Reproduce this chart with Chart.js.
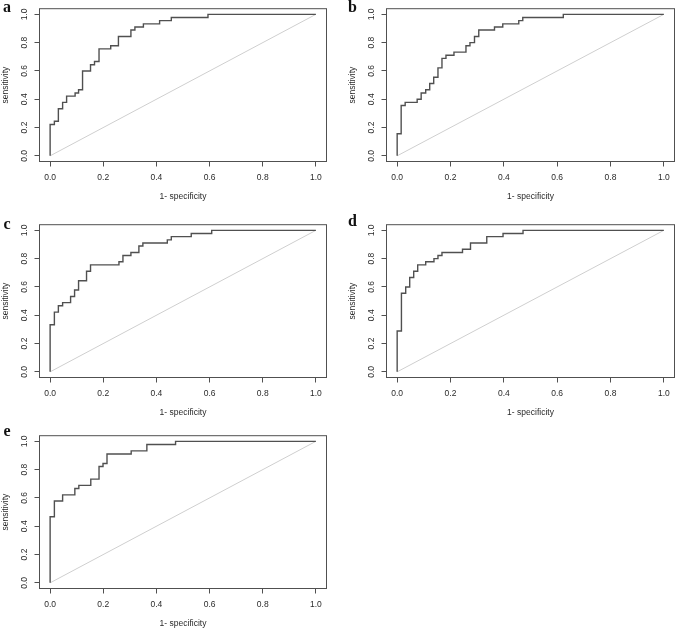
<!DOCTYPE html>
<html>
<head>
<meta charset="utf-8">
<script src="https://cdn.jsdelivr.net/npm/chart.js@4"></script>
<style>
  html, body { margin: 0; padding: 0; background: #fff; }
  #fig { position: relative; width: 677px; height: 631px; overflow: hidden; }
  .panel { position: absolute; }
  .tag { position: absolute; font: bold 16px/16px "Liberation Serif", "Times New Roman", serif; color: #111; }
</style>
</head>
<body>
<div id="fig">
  <div class="panel" id="pa"><canvas id="chartA"></canvas></div>
  <div class="panel" id="pb"><canvas id="chartB"></canvas></div>
  <div class="panel" id="pc"><canvas id="chartC"></canvas></div>
  <div class="panel" id="pd"><canvas id="chartD"></canvas></div>
  <div class="panel" id="pe"><canvas id="chartE"></canvas></div>
  <div class="tag" style="left:3px;top:-1.5px">a</div>
  <div class="tag" style="left:348px;top:-1.5px">b</div>
  <div class="tag" style="left:3.5px;top:215.5px">c</div>
  <div class="tag" style="left:348px;top:212.5px">d</div>
  <div class="tag" style="left:3.5px;top:422.5px">e</div>
</div>
<script>
// axis ticks shared by every panel
const tickValues = [0, 0.2, 0.4, 0.6, 0.8, 1.0];

// chance line
const diagX = [0, 1];
const diagY = [0, 1];

// ROC steps: at each 1-specificity value the sensitivity jumps to the matching value
const fprA = [0, 0, 0.016, 0.031, 0.047, 0.062, 0.094, 0.107, 0.122, 0.152, 0.167, 0.184, 0.228, 0.257, 0.304, 0.319, 0.351, 0.412, 0.456, 0.594, 1];
const tprA = [0, 0.222, 0.244, 0.333, 0.378, 0.422, 0.444, 0.467, 0.600, 0.644, 0.667, 0.756, 0.778, 0.844, 0.889, 0.911, 0.933, 0.956, 0.978, 1, 1];

const fprB = [0, 0, 0.015, 0.030, 0.075, 0.090, 0.107, 0.122, 0.137, 0.153, 0.168, 0.183, 0.213, 0.258, 0.273, 0.290, 0.306, 0.365, 0.396, 0.456, 0.471, 0.623, 1];
const tprB = [0, 0.156, 0.356, 0.378, 0.400, 0.444, 0.467, 0.511, 0.556, 0.622, 0.689, 0.711, 0.733, 0.778, 0.800, 0.844, 0.889, 0.911, 0.933, 0.956, 0.978, 1, 1];

const fprC = [0, 0, 0.016, 0.031, 0.047, 0.077, 0.092, 0.107, 0.137, 0.152, 0.259, 0.274, 0.304, 0.334, 0.349, 0.441, 0.456, 0.531, 0.608, 1];
const tprC = [0, 0.333, 0.422, 0.467, 0.489, 0.533, 0.578, 0.644, 0.711, 0.756, 0.778, 0.822, 0.844, 0.889, 0.911, 0.933, 0.956, 0.978, 1, 1];

const fprD = [0, 0, 0.016, 0.032, 0.047, 0.062, 0.077, 0.107, 0.138, 0.153, 0.168, 0.245, 0.275, 0.336, 0.397, 0.472, 1];
const tprD = [0, 0.289, 0.556, 0.600, 0.667, 0.711, 0.756, 0.778, 0.800, 0.822, 0.844, 0.867, 0.911, 0.956, 0.978, 1, 1];

const fprE = [0, 0, 0.016, 0.047, 0.093, 0.108, 0.153, 0.184, 0.199, 0.214, 0.305, 0.364, 0.472, 1];
const tprE = [0, 0.467, 0.578, 0.622, 0.667, 0.689, 0.733, 0.822, 0.844, 0.911, 0.933, 0.978, 1, 1];

// where each panel sits on the page
const panels = [
    { box: 'pa', canvas: 'chartA', left: 0,   top: 0,   width: 328, fpr: fprA, tpr: tprA },
    { box: 'pb', canvas: 'chartB', left: 347, top: 0,   width: 329, fpr: fprB, tpr: tprB },
    { box: 'pc', canvas: 'chartC', left: 0,   top: 216, width: 328, fpr: fprC, tpr: tprC },
    { box: 'pd', canvas: 'chartD', left: 347, top: 216, width: 329, fpr: fprD, tpr: tprD },
    { box: 'pe', canvas: 'chartE', left: 0,   top: 427, width: 328, fpr: fprE, tpr: tprE }
];

const textFont = { family: '"Liberation Sans", Arial, Helvetica, sans-serif', size: 8.5 };
const textColor = '#2a2a2a';
const lineColor = '#505050';

// R style box around the plot region
const framePlugin = {
    id: 'frame',
    afterDraw(chart) {
        const { ctx, chartArea } = chart;
        ctx.save();
        ctx.strokeStyle = lineColor;
        ctx.lineWidth = 1;
        ctx.strokeRect(chartArea.left, chartArea.top, chartArea.right - chartArea.left, chartArea.bottom - chartArea.top);
        ctx.restore();
    }
};

function toPoints(xs, ys) {
    return xs.map((x, i) => ({ x: x, y: ys[i] }));
}

function setTicks(axis) {
    axis.ticks = tickValues.map(v => ({ value: v }));
}

function makePanel(p) {
    const box = document.getElementById(p.box);
    box.style.left = p.left + 'px';
    box.style.top = p.top + 'px';
    box.style.width = p.width + 'px';
    box.style.height = '205px';

    return new Chart(document.getElementById(p.canvas), {
        type: 'scatter',
        data: {
            datasets: [{
                    label: 'ROC',
                    data: toPoints(p.fpr, p.tpr),
                    showLine: true,
                    stepped: true,
                    borderColor: lineColor,
                    borderWidth: 1.4,
                    pointRadius: 0,
                    fill: false,
                    order: 1
                },
                {
                    label: 'chance',
                    data: toPoints(diagX, diagY),
                    showLine: true,
                    borderColor: '#cfcfcf',
                    borderWidth: 1,
                    pointRadius: 0,
                    fill: false,
                    order: 2
                }
            ]
        },
        options: {
            responsive: true,
            maintainAspectRatio: false,
            animation: false,
            events: [],
            layout: {
                padding: { top: 3.5, right: 1.5, left: 0, bottom: 0 }
            },
            plugins: {
                legend: { display: false },
                tooltip: { enabled: false }
            },
            scales: {
                x: {
                    type: 'linear',
                    min: -0.04,
                    max: 1.04,
                    bounds: 'data',
                    afterBuildTicks: setTicks,
                    afterFit: axis => { axis.height = 43.5; },
                    ticks: {
                        callback: v => v.toFixed(1),
                        font: textFont,
                        color: textColor,
                        padding: 6,
                        maxRotation: 0,
                        autoSkip: false
                    },
                    grid: { drawOnChartArea: false, tickLength: 5, color: lineColor },
                    border: { display: false },
                    title: {
                        display: true,
                        text: '1- specificity',
                        font: textFont,
                        color: textColor,
                        padding: { top: 0, bottom: 3 }
                    }
                },
                y: {
                    type: 'linear',
                    min: -0.04,
                    max: 1.04,
                    bounds: 'data',
                    afterBuildTicks: setTicks,
                    afterFit: axis => { axis.width = 39.5; },
                    ticks: {
                        callback: v => v.toFixed(1),
                        font: textFont,
                        color: textColor,
                        padding: 3.6,
                        minRotation: 90,
                        maxRotation: 90,
                        crossAlign: 'center',
                        autoSkip: false
                    },
                    grid: { drawOnChartArea: false, tickLength: 5, color: lineColor },
                    border: { display: false },
                    title: {
                        display: true,
                        text: 'sensitivity',
                        font: textFont,
                        color: textColor,
                        padding: { top: 1, bottom: 0 }
                    }
                }
            }
        },
        plugins: [framePlugin]
    });
}

const charts = panels.map(makePanel);
</script>
</body>
</html>
